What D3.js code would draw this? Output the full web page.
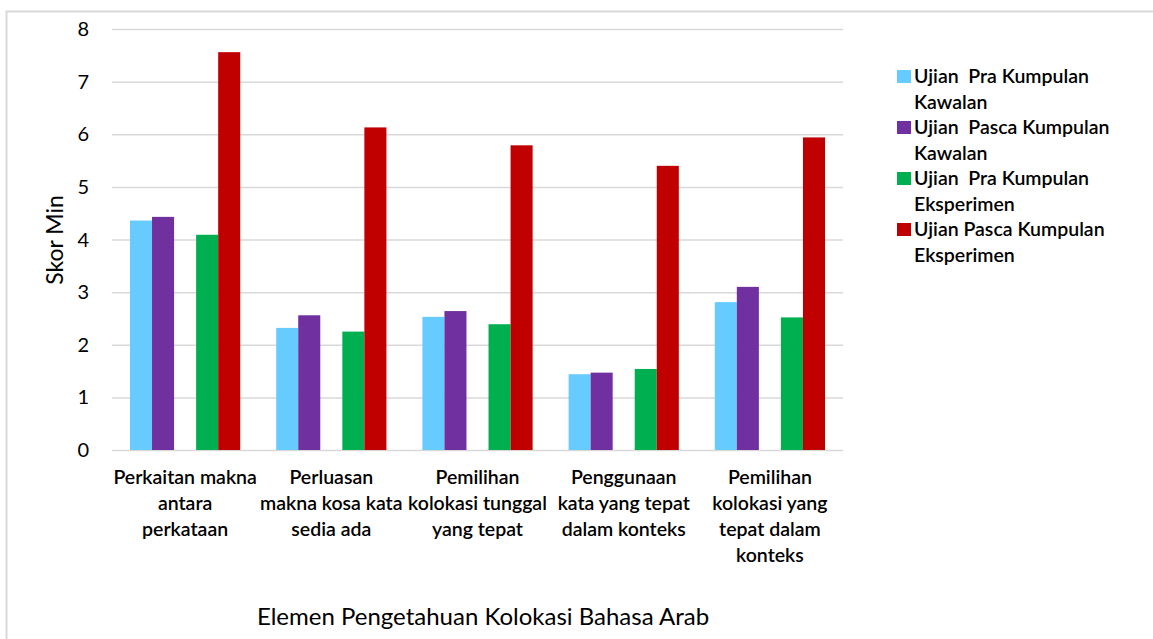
<!DOCTYPE html>
<html>
<head>
<meta charset="utf-8">
<script src="https://cdn.jsdelivr.net/npm/d3@7"></script>
<style>
  body { margin: 0; background: #fff; }
  svg { display: block; }
  text { white-space: pre; }
  .grid line { stroke: #d9d9d9; stroke-width: 1.5; }
  .grid .domain { display: none; }
  .ytick text { font-family: Lato, sans-serif; font-size: 20px; fill: #000; }
</style>
</head>
<body>
<svg id="chart" width="1153" height="639"></svg>
<script>
"use strict";

// categories (tick labels, already wrapped the way the picture shows them)
var categories = ['Perkaitan makna antara perkataan', 'Perluasan makna kosa kata sedia ada',
  'Pemilihan kolokasi tunggal yang tepat', 'Penggunaan kata yang tepat dalam konteks',
  'Pemilihan kolokasi yang tepat dalam konteks'];
var categoryLines = [
  ['Perkaitan makna', 'antara', 'perkataan'],
  ['Perluasan', 'makna kosa kata', 'sedia ada'],
  ['Pemilihan', 'kolokasi tunggal', 'yang tepat'],
  ['Penggunaan', 'kata yang tepat', 'dalam konteks'],
  ['Pemilihan', 'kolokasi yang', 'tepat dalam', 'konteks']
];

var seriesNames = ['Ujian  Pra Kumpulan Kawalan', 'Ujian  Pasca Kumpulan Kawalan',
  'Ujian  Pra Kumpulan Eksperimen', 'Ujian Pasca Kumpulan Eksperimen'];
var seriesLegendLines = [
  ['Ujian  Pra Kumpulan', 'Kawalan'],
  ['Ujian  Pasca Kumpulan', 'Kawalan'],
  ['Ujian  Pra Kumpulan', 'Eksperimen'],
  ['Ujian Pasca Kumpulan', 'Eksperimen']
];
var seriesColors = ['#66ccff', '#7030a0', '#00b050', '#c00000'];

var praKawalan = [4.36, 2.32, 2.53, 1.44, 2.81];
var pascaKawalan = [4.43, 2.56, 2.64, 1.47, 3.10];
var praEksperimen = [4.09, 2.25, 2.39, 1.54, 2.52];
var pascaEksperimen = [7.56, 6.13, 5.79, 5.40, 5.94];

var yTicks = [0, 1, 2, 3, 4, 5, 6, 7, 8];

function draw_chart(svg) {
  var seriesValues = [praKawalan, pascaKawalan, praEksperimen, pascaEksperimen];
  // the chart leaves an empty slot between the two pairs of bars
  var seriesSlot = [0, 1, 3, 4];

  var margin = { top: 29, left: 112, right: 310, bottom: 189 };
  var width = 1153 - margin.left - margin.right;
  var height = 639 - margin.top - margin.bottom;

  // chart area border
  svg.append('rect')
    .attr('x', 6.5).attr('y', 11.5)
    .attr('width', 1200).attr('height', 700)
    .attr('fill', '#fff')
    .attr('stroke', '#d9d9d9')
    .attr('stroke-width', 2);

  var plot = svg.append('g')
    .attr('transform', 'translate(' + margin.left + ',' + margin.top + ')');

  var X0 = d3.scaleBand().domain(categories).range([0, width]).padding(0);
  var bw = X0.bandwidth();
  var X1 = d3.scaleBand().domain([0, 1, 2, 3, 4])
    .range([bw * 0.123, bw * 0.877]).padding(0);
  var Y = d3.scaleLinear().domain([0, 8]).range([height, 0]);

  plot.append('g')
    .attr('class', 'grid')
    .call(d3.axisLeft(Y).tickValues(yTicks).tickSize(-width).tickFormat(''));

  var yaxis = plot.append('g')
    .attr('class', 'ytick');
  yaxis.selectAll('text')
    .data(yTicks)
    .enter().append('text')
    .attr('x', -23)
    .attr('y', function (d) { return Y(d); })
    .attr('dy', '0.35em')
    .attr('text-anchor', 'end')
    .text(function (d) { return d; });

  seriesValues.forEach(function (vals, si) {
    plot.append('g')
      .selectAll('rect')
      .data(vals)
      .enter().append('rect')
      .attr('x', function (d, i) { return X0(categories[i]) + X1(seriesSlot[si]); })
      .attr('y', function (d) { return Y(d); })
      .attr('width', X1.bandwidth())
      .attr('height', function (d) { return height - Y(d); })
      .attr('fill', seriesColors[si]);
  });

  // category labels
  var xl = plot.append('g')
    .attr('font-family', 'Lato, sans-serif')
    .attr('font-size', '19.5px')
    .attr('font-weight', 600);
  categoryLines.forEach(function (lines, i) {
    var t = xl.append('text')
      .attr('text-anchor', 'middle')
      .attr('x', X0(categories[i]) + bw / 2)
      .attr('y', height + 34);
    lines.forEach(function (ln, j) {
      t.append('tspan')
        .attr('x', X0(categories[i]) + bw / 2)
        .attr('dy', j === 0 ? 0 : 26)
        .text(ln);
    });
  });

  // axis titles
  svg.append('text')
    .attr('transform', 'translate(63,240) rotate(-90)')
    .attr('text-anchor', 'middle')
    .attr('font-family', 'Lato, sans-serif')
    .attr('font-size', '23px')
    .attr('fill', '#000')
    .text('Skor Min');

  svg.append('text')
    .attr('x', 483)
    .attr('y', 625)
    .attr('text-anchor', 'middle')
    .attr('font-family', 'Lato, sans-serif')
    .attr('font-size', '24px')
    .attr('fill', '#000')
    .text('Elemen Pengetahuan Kolokasi Bahasa Arab');

  // legend
  var legend = svg.append('g')
    .attr('transform', 'translate(897,70)');
  seriesNames.forEach(function (name, i) {
    var g = legend.append('g')
      .attr('transform', 'translate(0,' + (i * 51) + ')');
    g.append('rect')
      .attr('width', 14).attr('height', 13)
      .attr('fill', seriesColors[i]);
    var t = g.append('text')
      .attr('font-family', 'Lato, sans-serif')
      .attr('font-size', '19.5px')
      .attr('font-weight', 600)
      .attr('y', 13);
    seriesLegendLines[i].forEach(function (ln, j) {
      t.append('tspan')
        .attr('x', 17)
        .attr('dy', j === 0 ? 0 : 25.5)
        .text(ln);
    });
  });
}

draw_chart(d3.select('#chart'));
</script>
</body>
</html>
